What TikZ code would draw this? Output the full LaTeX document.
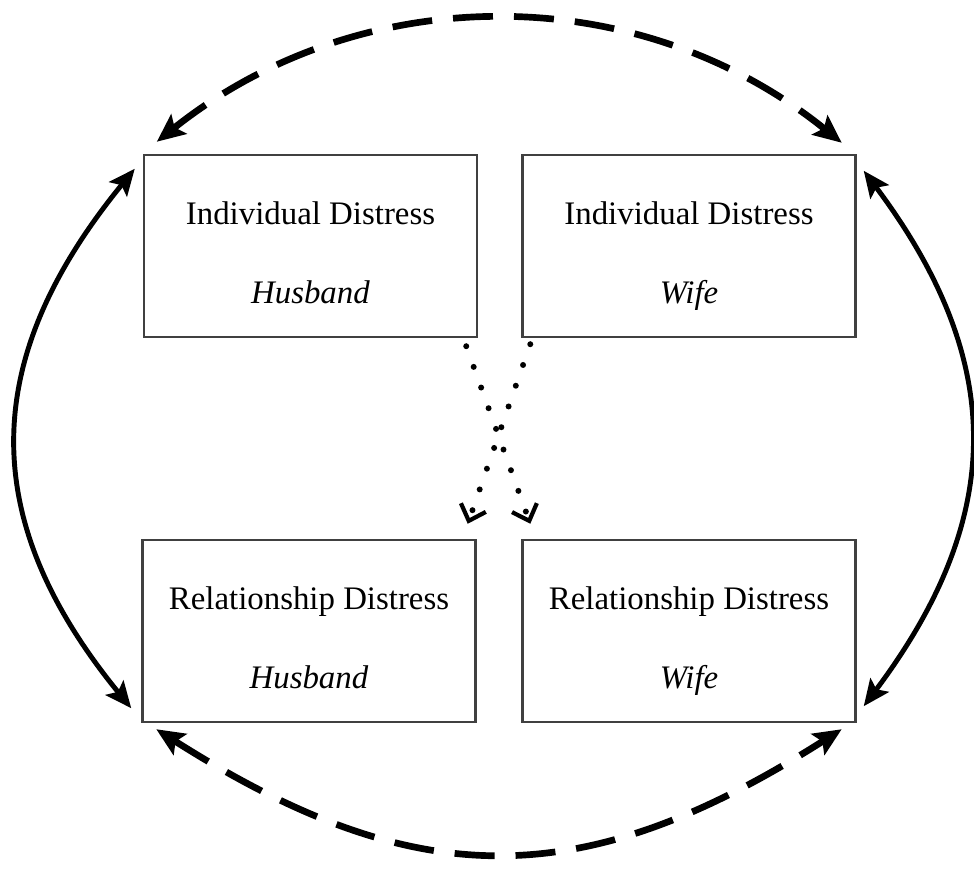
\documentclass[tikz,border=0pt]{standalone}
\usepackage{fontspec}
\setmainfont{Liberation Serif}
\usetikzlibrary{arrows.meta}

\begin{document}
\begin{tikzpicture}[
  box/.style={draw=black!75,line width=1.4pt,minimum width=6.66cm,minimum height=3.64cm,align=center,font=\fontsize{18.7}{22}\selectfont},
  dasharrow/.style={line width=3.8pt,dash pattern=on 0.8cm off 0.42cm,{Stealth[length=16pt,width=14pt,inset=3pt]}-{Stealth[length=16pt,width=14pt,inset=3pt]}},
  solidarrow/.style={line width=2.8pt,{Stealth[length=15pt,width=13pt,inset=3pt]}-{Stealth[length=15pt,width=13pt,inset=3pt]}},
  dotarrow/.style={line width=3.4pt,line cap=round,dash pattern=on 0pt off 12.5pt,-{Straight Barb[length=8pt,width=15pt,line width=2.4pt]}}
]
\useasboundingbox (0,0) rectangle (19.48,-17.42);

\node (indH) at (6.21,-4.92)[box]{\rule{0pt}{25pt}Individual Distress\\[23pt]\textit{Husband}\rule[-5pt]{0pt}{0pt}};
\node (indW) at (13.78,-4.92)[box]{\rule{0pt}{25pt}Individual Distress\\[23pt]\textit{Wife}\rule[-5pt]{0pt}{0pt}};
\node (relH) at (6.18,-12.62)[box]{\rule{0pt}{25pt}Relationship Distress\\[23pt]\textit{Husband}\rule[-5pt]{0pt}{0pt}};
\node (relW) at (13.78,-12.62)[box]{\rule{0pt}{25pt}Relationship Distress\\[23pt]\textit{Wife}\rule[-5pt]{0pt}{0pt}};

% dashed arcs
\draw[dasharrow] ([shift={(0.28,0.24)}]indH.north west) .. controls +(4.08,3.25) and +(-4.08,3.29) .. ([shift={(-0.3,0.22)}]indW.north east);
\draw[dasharrow] ([shift={(0.3,-0.12)}]relH.south west) .. controls +(5.2,-3.3) and +(-5.2,-3.3) .. ([shift={(-0.3,-0.12)}]relW.south east);

% solid arcs
\draw[solidarrow] ([shift={(-0.16,-0.3)}]indH.north west) .. controls +(-3.1,-3.8) and +(-3.1,3.8) .. ([shift={(-0.2,0.3)}]relH.south west);
\draw[solidarrow] ([shift={(0.14,-0.34)}]indW.north east) .. controls +(2.85,-3.8) and +(2.85,3.8) .. ([shift={(0.14,0.34)}]relW.south east);

% dotted cross
\draw[dotarrow] ([shift={(-0.24,-0.16)}]indH.south east) -- ([shift={(0.18,0.3)}]relW.north west);
\draw[dotarrow] ([shift={(0.18,-0.12)}]indW.south west) -- ([shift={(-0.18,0.3)}]relH.north east);
\end{tikzpicture}
\end{document}
